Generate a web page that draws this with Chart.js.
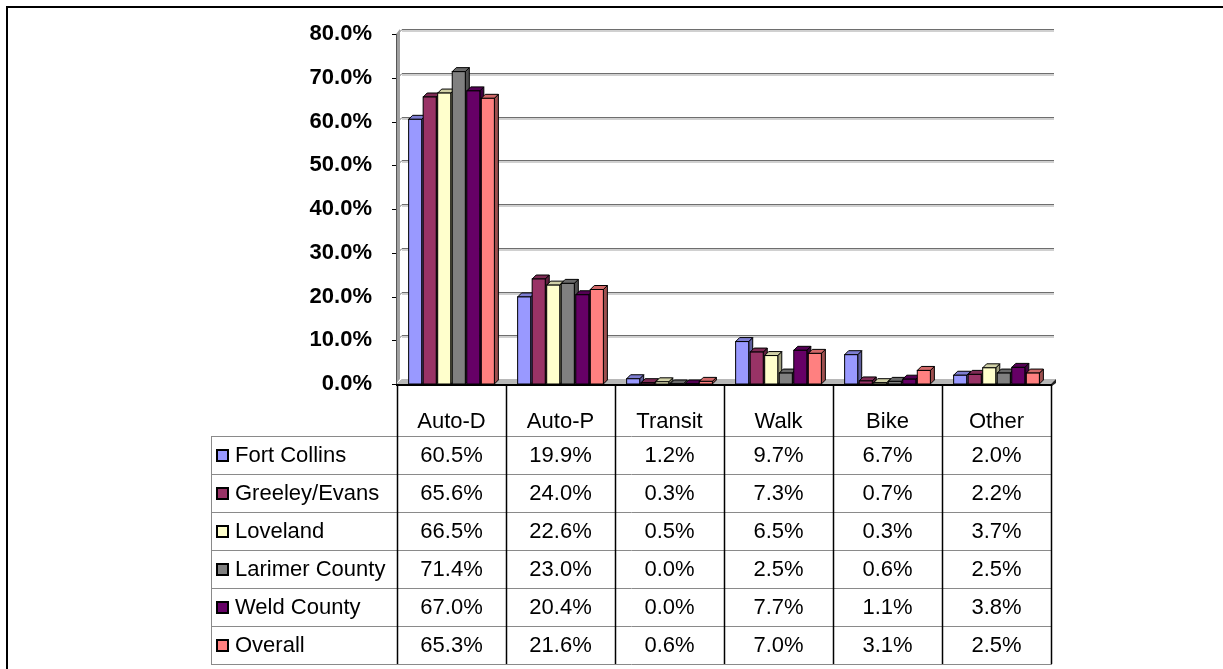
<!DOCTYPE html>
<html>
<head>
<meta charset="utf-8">
<script src="https://cdn.jsdelivr.net/npm/chart.js@4.4.1/dist/chart.umd.min.js"></script>
<style>
  html, body { margin: 0; padding: 0; background: #fff; }
  #wrap { position: relative; width: 1223px; height: 669px; overflow: hidden; }
  #frame { position: absolute; left: 6px; top: 6px; width: 1300px; height: 700px;
           border-left: 2px solid #000; border-top: 2px solid #000; }
  canvas { position: absolute; left: 0; top: 0; }
</style>
</head>
<body>
<div id="wrap">
  <div id="frame"></div>
  <canvas id="modes" width="1223" height="669"></canvas>
</div>
<script>
// ─── Data ───
const categories   = ['Auto-D', 'Auto-P', 'Transit', 'Walk', 'Bike', 'Other'];
const seriesNames  = ['Fort Collins', 'Greeley/Evans', 'Loveland', 'Larimer County', 'Weld County', 'Overall'];
const fortCollins  = [60.5, 19.9, 1.2, 9.7, 6.7, 2.0];
const greeleyEvans = [65.6, 24.0, 0.3, 7.3, 0.7, 2.2];
const loveland     = [66.5, 22.6, 0.5, 6.5, 0.3, 3.7];
const larimer      = [71.4, 23.0, 0.0, 2.5, 0.6, 2.5];
const weld         = [67.0, 20.4, 0.0, 7.7, 1.1, 3.8];
const overall      = [65.3, 21.6, 0.6, 7.0, 3.1, 2.5];
const seriesColors = ['#9999FF', '#993366', '#FFFFCC', '#808080', '#660066', '#FF8080'];
const yMin = 0, yMax = 80, yStep = 10;

const seriesValues = [fortCollins, greeleyEvans, loveland, larimer, weld, overall];

const FONT = '"Liberation Sans", Arial, sans-serif';
const BAR_DX = 4, BAR_DY = 4;     // bar depth
const WALL_DX = 5, WALL_DY = 5;   // back wall offset
const HEADER_H = 51, ROW_H = 38, TABLE_LEFT = 211;

function shade(hex, f) {
  const n = parseInt(hex.slice(1), 16);
  const r = Math.round(((n >> 16) & 255) * f);
  const g = Math.round(((n >> 8) & 255) * f);
  const b = Math.round((n & 255) * f);
  return `rgb(${r},${g},${b})`;
}
const fmt = v => v.toFixed(1) + '%';

// ─── 3D wall, floor and columns ───
const columns3d = {
  id: 'columns3d',
  beforeDatasetsDraw(chart) {
    const { ctx, chartArea: a, scales: { y } } = chart;
    ctx.save();

    // back wall gridlines
    for (let v = yMin; v <= yMax; v += yStep) {
      const py = Math.round(y.getPixelForValue(v)) + 0.5;
      ctx.strokeStyle = '#d0d0d0';
      ctx.lineWidth = 3;
      ctx.beginPath();
      ctx.moveTo(a.left + WALL_DX, py - WALL_DY + 1);
      ctx.lineTo(a.right + WALL_DX - 2, py - WALL_DY + 1);
      ctx.stroke();
      ctx.strokeStyle = '#6e6e6e';
      ctx.lineWidth = 1;
      ctx.beginPath();
      ctx.moveTo(a.left, py);
      ctx.lineTo(a.left + WALL_DX, py - WALL_DY);
      ctx.lineTo(a.right + WALL_DX - 2, py - WALL_DY);
      ctx.stroke();
      // tick on the value axis
      ctx.strokeStyle = '#000';
      ctx.beginPath();
      ctx.moveTo(a.left - 5, py);
      ctx.lineTo(a.left, py);
      ctx.stroke();
    }

    // side wall edge
    ctx.fillStyle = '#a0a0a0';
    ctx.beginPath();
    ctx.moveTo(a.left - 1, a.bottom);
    ctx.lineTo(a.left - 1, a.top);
    ctx.lineTo(a.left + WALL_DX - 2, a.top - WALL_DY);
    ctx.lineTo(a.left + WALL_DX - 2, a.bottom - WALL_DY);
    ctx.closePath();
    ctx.fill();
    ctx.strokeStyle = '#555';
    ctx.lineWidth = 1;
    ctx.beginPath();
    ctx.moveTo(a.left - 0.5, a.top);
    ctx.lineTo(a.left - 0.5, a.bottom);
    ctx.stroke();

    // floor
    ctx.fillStyle = '#b8b8b8';
    ctx.beginPath();
    ctx.moveTo(a.left, a.bottom);
    ctx.lineTo(a.right, a.bottom);
    ctx.lineTo(a.right + WALL_DX, a.bottom - WALL_DY);
    ctx.lineTo(a.left + WALL_DX, a.bottom - WALL_DY);
    ctx.closePath();
    ctx.fill();
    ctx.fillStyle = '#222';
    ctx.beginPath();
    ctx.moveTo(a.right, a.bottom);
    ctx.lineTo(a.right + WALL_DX, a.bottom - WALL_DY);
    ctx.lineTo(a.right + WALL_DX, a.bottom - 1);
    ctx.lineTo(a.right + 1, a.bottom + 2);
    ctx.closePath();
    ctx.fill();

    // columns, left to right so each front covers the previous side face
    const bars = [];
    chart.data.datasets.forEach((ds, di) => {
      chart.getDatasetMeta(di).data.forEach(el => {
        bars.push({ el, color: ds.backgroundColor });
      });
    });
    bars.sort((p, q) => p.el.x - q.el.x);
    bars.forEach(({ el, color }) => {
      const l = el.x - el.width / 2, r = el.x + el.width / 2;
      const t = el.y, b = el.base;
      ctx.lineWidth = 1;
      ctx.strokeStyle = '#000';
      // side
      ctx.fillStyle = shade(color, 0.62);
      ctx.beginPath();
      ctx.moveTo(r, t); ctx.lineTo(r + BAR_DX, t - BAR_DY);
      ctx.lineTo(r + BAR_DX, b - BAR_DY); ctx.lineTo(r, b);
      ctx.closePath(); ctx.fill(); ctx.stroke();
      // top
      ctx.fillStyle = shade(color, 0.82);
      ctx.beginPath();
      ctx.moveTo(l, t); ctx.lineTo(l + BAR_DX, t - BAR_DY);
      ctx.lineTo(r + BAR_DX, t - BAR_DY); ctx.lineTo(r, t);
      ctx.closePath(); ctx.fill(); ctx.stroke();
      // front
      ctx.fillStyle = color;
      ctx.fillRect(l, t, r - l, b - t);
      ctx.strokeRect(l, t, r - l, b - t);
    });

    // floor front edge
    ctx.strokeStyle = '#000';
    ctx.lineWidth = 2;
    ctx.beginPath();
    ctx.moveTo(a.left - 1, a.bottom + 1);
    ctx.lineTo(a.right + 1, a.bottom + 1);
    ctx.stroke();

    ctx.restore();
    return false;
  },

  // ─── Data table under the plot ───
  afterDraw(chart) {
    const { ctx, chartArea: a, scales: { x } } = chart;
    const catW = (a.right - a.left) / categories.length;
    const top = a.bottom + 1;
    const bodyTop = top + HEADER_H;
    const bottom = bodyTop + ROW_H * seriesNames.length;
    ctx.save();

    // horizontal rules
    ctx.strokeStyle = '#8a8a8a';
    ctx.lineWidth = 1;
    for (let i = 0; i <= seriesNames.length; i++) {
      const py = Math.round(bodyTop + i * ROW_H) + 0.5;
      ctx.beginPath();
      ctx.moveTo(TABLE_LEFT, py);
      ctx.lineTo(a.right + 1, py);
      ctx.stroke();
    }
    ctx.beginPath();
    ctx.moveTo(TABLE_LEFT + 0.5, bodyTop);
    ctx.lineTo(TABLE_LEFT + 0.5, bottom);
    ctx.stroke();

    // column rules
    ctx.strokeStyle = '#000';
    ctx.lineWidth = 1.5;
    for (let i = 0; i <= categories.length; i++) {
      const px = Math.round(a.left + i * catW) + 0.5;
      ctx.beginPath();
      ctx.moveTo(px, top);
      ctx.lineTo(px, bottom);
      ctx.stroke();
    }

    ctx.fillStyle = '#000';
    ctx.textAlign = 'center';
    ctx.textBaseline = 'middle';
    ctx.font = `22px ${FONT}`;
    categories.forEach((c, i) => {
      ctx.fillText(c, x.getPixelForValue(i), top + 37);
    });

    seriesNames.forEach((name, si) => {
      const cy = bodyTop + si * ROW_H + ROW_H / 2 + 1;
      // legend key
      ctx.fillStyle = seriesColors[si];
      ctx.fillRect(217, cy - 6, 11, 11);
      ctx.strokeStyle = '#000';
      ctx.lineWidth = 2;
      ctx.strokeRect(217, cy - 6, 11, 11);
      ctx.fillStyle = '#000';
      ctx.textAlign = 'left';
      ctx.fillText(name, 235, cy);
      ctx.textAlign = 'center';
      seriesValues[si].forEach((v, ci) => {
        ctx.fillText(fmt(v), x.getPixelForValue(ci), cy);
      });
    });

    ctx.restore();
  }
};

new Chart(document.getElementById('modes'), {
  type: 'bar',
  data: {
    labels: categories,
    datasets: seriesNames.map((name, i) => ({
      label: name,
      data: seriesValues[i],
      backgroundColor: seriesColors[i],
      barPercentage: 0.9,
      categoryPercentage: 0.8,
    })),
  },
  options: {
    responsive: false,
    animation: false,
    layout: { padding: { left: 0, right: 172, top: 34, bottom: 285 } },
    plugins: { legend: { display: false }, tooltip: { enabled: false } },
    scales: {
      x: { display: false },
      y: {
        min: yMin, max: yMax,
        grid: { display: false },
        border: { display: false },
        ticks: {
          stepSize: yStep,
          padding: 17,
          color: '#000',
          font: { family: FONT, size: 22, weight: 'bold' },
          callback: v => fmt(v),
        },
        afterFit(s) { s.width = 397; },
      },
    },
  },
  plugins: [columns3d],
});
</script>
</body>
</html>
